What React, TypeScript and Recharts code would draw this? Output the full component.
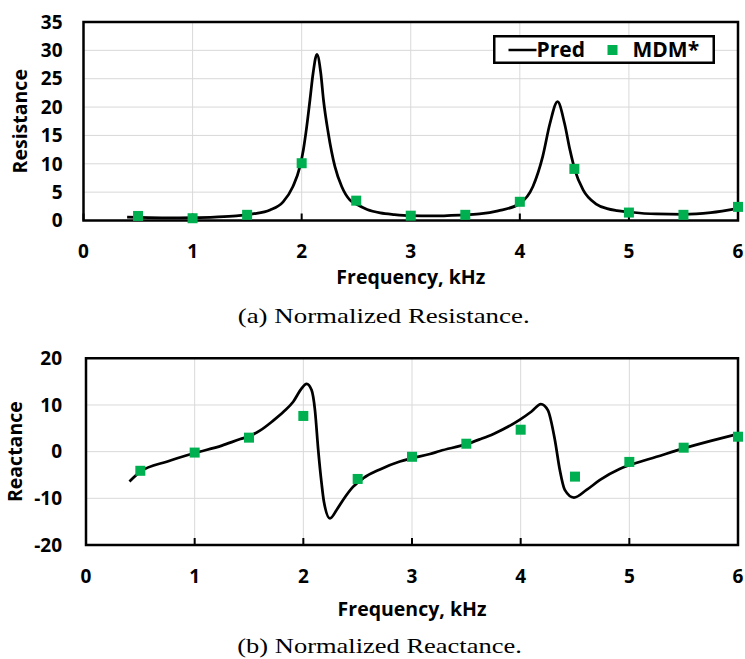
import { ComposedChart, Line, Scatter, XAxis, YAxis, CartesianGrid, ReferenceArea, Legend } from 'recharts';

const FONT = "'Open Sans', sans-serif";

const freqTicks = [0, 1, 2, 3, 4, 5, 6];
const resistanceTicks = [0, 5, 10, 15, 20, 25, 30, 35];
const reactanceTicks = [-20, -10, 0, 10, 20];

// MDM* measured points
const mdmFreq = [0.5, 1, 1.5, 2, 2.5, 3, 3.5, 4, 4.5, 5, 5.5, 6];
const mdmResistance = [0.8, 0.4, 1.0, 10.1, 3.5, 0.85, 1.0, 3.3, 9.1, 1.4, 1.0, 2.4];
const mdmReactance = [-4.1, -0.2, 3.0, 7.65, -5.85, -1.1, 1.7, 4.7, -5.35, -2.2, 0.85, 3.2];

// Pred curve
const predResFreq = [
  0.4, 0.6, 0.8, 1.0, 1.2, 1.4, 1.55, 1.71, 1.83, 1.92, 1.984, 2.015, 2.046, 2.076, 2.105,
  2.14, 2.175, 2.2, 2.244, 2.305, 2.367, 2.443, 2.5, 2.6, 2.72, 2.85, 3.0, 3.2, 3.45, 3.63,
  3.8, 4.0, 4.12, 4.21, 4.276, 4.346, 4.41, 4.46, 4.505, 4.58, 4.7, 4.8, 4.89, 5.0, 5.25,
  5.5, 5.75, 6.0,
];
const predResistance = [
  0.6, 0.5, 0.45, 0.5, 0.6, 0.8, 1.15, 1.85, 3.3, 6.0, 9.5, 12.4, 16.5, 21.25, 26.0,
  29.3, 26.0, 21.25, 15.4, 9.5, 6.0, 3.6, 2.9, 1.95, 1.35, 1.05, 0.85, 0.8, 0.95, 1.15,
  1.7, 3.0, 6.0, 11.3, 17.1, 20.95, 17.1, 12.4, 8.9, 5.4, 2.9, 2.1, 1.75, 1.5, 1.15,
  1.1, 1.4, 2.15,
];

const predReaFreq = [
  0.4, 0.5, 0.75, 1.0, 1.25, 1.42, 1.5, 1.6, 1.72, 1.82, 1.907, 1.98, 2.03, 2.076, 2.107,
  2.137, 2.168, 2.19, 2.245, 2.306, 2.367, 2.459, 2.551, 2.705, 2.888, 3.0, 3.165, 3.257,
  3.5, 3.625, 3.75, 3.99, 4.1, 4.186, 4.25, 4.315, 4.36, 4.406, 4.49, 4.606, 4.73, 4.91,
  5.0, 5.25, 5.5, 5.75, 6.0,
];
const predReactance = [
  -6.4, -4.3, -2.1, -0.3, 1.3, 2.7, 3.3, 4.5, 6.6, 8.6, 10.7, 13.4, 14.5, 13.2, 8.9,
  0.4, -6.8, -10.8, -14.3, -12.5, -10.3, -7.5, -5.7, -3.8, -2.1, -1.4, -0.5, 0.15,
  1.6, 2.65, 3.8, 6.8, 8.6, 10.2, 8.9, 2.5, -3.9, -8.2, -9.85, -8.2, -6.06, -3.7,
  -2.9, -1.1, 0.7, 2.3, 3.8,
];

const toPoints = (fs: number[], vs: number[]) => fs.map((f, i) => ({ f, v: vs[i] }));

const predResData = toPoints(predResFreq, predResistance);
const mdmResData = toPoints(mdmFreq, mdmResistance);
const predReaData = toPoints(predReaFreq, predReactance);
const mdmReaData = toPoints(mdmFreq, mdmReactance);

const tickStyle = { fill: '#000', fontSize: 19, fontWeight: 700, fontFamily: FONT };
const titleStyle = { fill: '#000', fontSize: 19.5, fontWeight: 700, fontFamily: FONT };

const square = (p: any) => (
  <rect x={p.cx - 5} y={p.cy - 5} width={10} height={10} fill="#00B050" />
);

function BoxLegend({ payload }: any) {
  const items = payload || [];
  const line = items.find((d: any) => d.type === 'line');
  const mark = items.find((d: any) => d.type !== 'line');
  const txt = { fontFamily: FONT, fontSize: 21, fontWeight: 700, fill: '#000' };
  return (
    <svg width={222} height={29} style={{ display: 'block', overflow: 'visible' }}>
      <rect x={1.25} y={1.25} width={219.5} height={26.5} fill="#fff" stroke="#000" strokeWidth={2.5} />
      {line && (
        <g>
          <line x1={15.5} x2={43.5} y1={15} y2={15} stroke={line.color} strokeWidth={2.5} />
          <text x={43.5} y={22} {...txt}>{line.value}</text>
        </g>
      )}
      {mark && (
        <g>
          <rect x={114.5} y={10} width={10} height={10} fill="#00B050" />
          <text x={139.5} y={22} {...txt}>{mark.value}</text>
        </g>
      )}
    </svg>
  );
}

export default function App() {
  return (
    <div style={{ position: 'absolute', left: 0, top: 0, width: 745, height: 659, background: '#fff' }}>
      <div style={{ position: 'absolute', left: 0, top: 0 }}>
        <ComposedChart width={745} height={300} margin={{ top: 22, right: 7, left: 0, bottom: 0 }}>
          <CartesianGrid stroke="#d9d9d9" strokeWidth={1} />
          <XAxis
            type="number"
            dataKey="f"
            domain={[0, 6]}
            ticks={freqTicks}
            height={79.5}
            axisLine={false}
            tickSize={-7}
            tickMargin={31.5}
            tickLine={{ stroke: '#000', strokeWidth: 2 }}
            tick={tickStyle}
            label={{ value: 'Frequency, kHz', position: 'insideBottom', offset: 15.7, style: titleStyle }}
          />
          <YAxis
            type="number"
            dataKey="v"
            domain={[0, 35]}
            ticks={resistanceTicks}
            width={83.5}
            axisLine={false}
            tickLine={false}
            tickSize={0}
            tickMargin={21}
            tick={tickStyle}
            label={{
              value: 'Resistance',
              angle: -90,
              position: 'insideLeft',
              offset: 20,
              style: { ...titleStyle, textAnchor: 'middle' },
            }}
          />
          <ReferenceArea x1={0} x2={6} y1={0} y2={35} fill="none" stroke="#000" strokeWidth={2.5} ifOverflow="visible" />
          <Line
            data={predResData}
            dataKey="v"
            name="Pred"
            type="monotone"
            stroke="#000"
            strokeWidth={2.75}
            dot={false}
            activeDot={false}
            legendType="line"
            isAnimationActive={false}
          />
          <Scatter data={mdmResData} name="MDM*" fill="#00B050" shape={square} legendType="square" isAnimationActive={false} />
          <Legend
            layout="vertical"
            align="center"
            verticalAlign="middle"
            content={<BoxLegend />}
            wrapperStyle={{ position: 'absolute', left: 493, top: 34.5, width: 222, height: 29 }}
          />
        </ComposedChart>
      </div>

      <div style={{ position: 'absolute', left: 0, top: 330 }}>
        <ComposedChart width={745} height={300} margin={{ top: 28.3, right: 7, left: 0, bottom: 0 }}>
          <CartesianGrid stroke="#d9d9d9" strokeWidth={1} />
          <XAxis
            type="number"
            dataKey="f"
            domain={[0, 6]}
            ticks={freqTicks}
            height={85}
            axisLine={false}
            tickSize={-7}
            tickMargin={32}
            tickLine={{ stroke: '#000', strokeWidth: 2 }}
            tick={tickStyle}
            label={{ value: 'Frequency, kHz', position: 'insideBottom', offset: 14, style: titleStyle }}
          />
          <YAxis
            type="number"
            dataKey="v"
            domain={[-20, 20]}
            ticks={reactanceTicks}
            width={86}
            axisLine={false}
            tickLine={false}
            tickSize={0}
            tickMargin={24}
            tick={tickStyle}
            label={{
              value: 'Reactance',
              angle: -90,
              position: 'insideLeft',
              offset: 15,
              style: { ...titleStyle, textAnchor: 'middle' },
            }}
          />
          <ReferenceArea x1={0} x2={6} y1={-20} y2={20} fill="none" stroke="#000" strokeWidth={2.5} ifOverflow="visible" />
          <Line
            data={predReaData}
            dataKey="v"
            name="Pred"
            type="monotone"
            stroke="#000"
            strokeWidth={2.75}
            dot={false}
            activeDot={false}
            isAnimationActive={false}
          />
          <Scatter data={mdmReaData} name="MDM*" fill="#00B050" shape={square} isAnimationActive={false} />
        </ComposedChart>
      </div>

      <svg width={745} height={659} style={{ position: 'absolute', left: 0, top: 0, pointerEvents: 'none' }}>
        <text x={237.7} y={323.3} fontFamily="'Liberation Serif', serif" fontSize={21} fill="#000" textLength={292} lengthAdjust="spacingAndGlyphs">
          (a) Normalized Resistance.
        </text>
        <text x={237.3} y={652.5} fontFamily="'Liberation Serif', serif" fontSize={21} fill="#000" textLength={284.5} lengthAdjust="spacingAndGlyphs">
          (b) Normalized Reactance.
        </text>
      </svg>
    </div>
  );
}
